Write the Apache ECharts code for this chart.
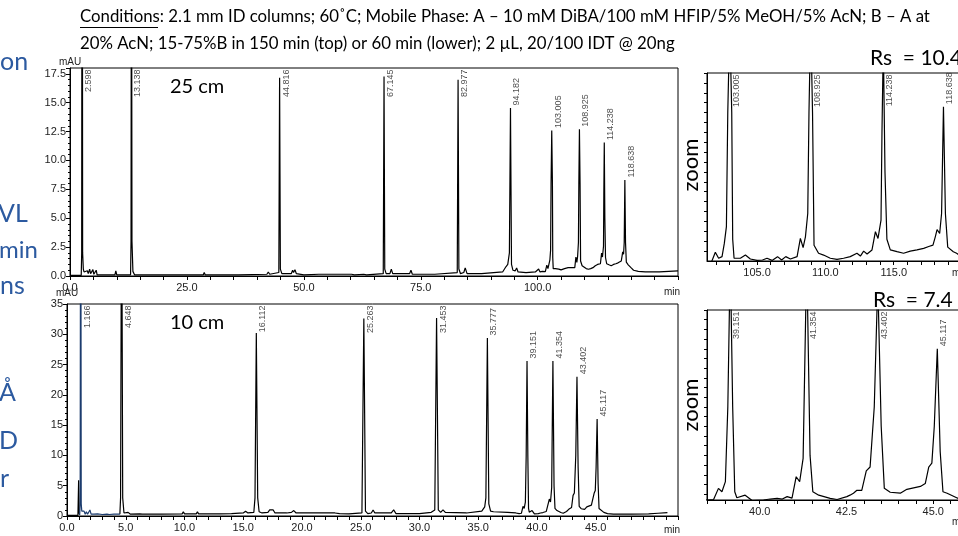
<!DOCTYPE html>
<html>
<head>
<meta charset="utf-8">
<script src="https://cdn.jsdelivr.net/npm/echarts@6.0.0/dist/echarts.min.js"></script>
<style>
html,body{margin:0;padding:0;background:#fff;}
#chart{width:958px;height:536px;}
</style>
</head>
<body>
<div id="chart"></div>
<script>
// 25 cm column (15-75%B in 150 min), [min, mAU]
var trace25 = [
  [0,0.05],[2.4,0.05],[2.5,2],[2.598,60],[2.7,2],[2.85,0.6],[3.0,0.35],[3.2,0.5],[3.4,0.2],[3.7,0.45],[3.9,0.2],
  [4.2,0.6],[4.4,0.2],[4.9,0.55],[5.1,0.15],[5.6,0.5],[5.8,0.1],[9.6,0.1],[9.8,0.45],[10.0,0.1],
  [12.95,0.1],[13.05,3],[13.138,40],[13.25,3],[13.45,0.4],[13.8,0.1],[15.6,0.1],[15.8,0.25],[16,0.1],
  [18.2,0.1],[18.4,0.2],[18.6,0.1],[28.5,0.1],[28.7,0.3],[28.9,0.1],[32.2,0.1],[32.4,0.25],[32.6,0.1],
  [36,0.1],[42.1,0.15],[42.4,0.35],[42.7,0.15],[44.65,0.3],[44.816,17.16],[44.98,0.6],[45.3,0.2],
  [47.3,0.2],[47.6,0.5],[47.8,0.3],[48.1,0.55],[48.4,0.2],[50,0.1],[53.2,0.15],[53.5,0.3],[53.8,0.15],
  [60.2,0.15],[60.5,0.3],[60.8,0.1],[62.8,0.15],[63.1,0.3],[63.4,0.1],[66.98,0.2],[67.145,17.27],
  [67.3,0.6],[67.6,0.2],[68.4,0.2],[68.7,0.6],[69,0.2],[72.6,0.2],[72.9,0.5],[73.2,0.15],[78,0.15],
  [82.8,0.3],[82.977,16.98],[83.15,0.6],[83.5,0.2],[84.2,0.3],[84.5,0.7],[84.9,0.2],[88,0.2],
  [92.5,0.35],[93.2,0.8],[93.6,1.0],[93.95,2.0],[94.182,14.53],[94.4,1.0],[94.7,0.5],[95.2,0.45],
  [95.5,0.7],[95.8,0.35],[97.5,0.3],[99.5,0.35],[100.2,0.6],[100.5,0.35],[101.0,0.4],[101.34,0.35],
  [101.63,0.38],[101.95,0.94],[102.19,0.64],[102.44,0.72],[102.61,1.4],[102.76,2.24],[102.86,8],
  [103.005,12.6],[103.15,8],[103.22,1.6],[103.32,0.64],[103.78,0.64],[104.15,0.8],[104.51,0.6],
  [105.0,0.53],[105.4,0.55],[105.73,0.64],[106.1,0.53],[106.5,0.72],[106.8,0.55],[107.1,0.72],
  [107.44,0.6],[107.93,0.72],[108.17,1.64],[108.37,1.18],[108.54,1.72],[108.71,2.9],[108.8,8],
  [108.925,12.7],[109.06,8],[109.17,1.3],[109.5,0.89],[109.87,0.8],[110.36,0.64],[110.85,0.58],
  [111.33,0.64],[111.82,0.72],[112.31,0.89],[112.56,0.75],[112.8,1.0],[113.05,0.85],[113.41,1.06],
  [113.66,1.98],[113.85,1.64],[114.07,2.57],[114.14,7],[114.238,11.55],[114.36,5],[114.5,1.6],
  [114.75,1.06],[115.24,0.97],[115.72,0.89],[116.21,1.0],[116.7,1.06],[117.19,1.14],[117.56,1.23],
  [117.87,1.3],[118.04,1.72],[118.17,2.09],[118.36,1.89],[118.5,2.9],[118.638,8.3],[118.78,2.9],
  [118.95,1.2],[119.36,0.97],[119.6,0.89],[120.0,0.7],[120.5,0.5],[121.5,0.4],[123,0.35],[126,0.35],
  [128,0.4],[130,0.45]
];

// 10 cm column (60 min gradient); the gap is drawn by trace10Blue
var trace10 = [
  [0,0.1],[0.93,0.1],[0.99,5.9],[1.04,0.4],[1.08,0.2],[1.08,'-'],
  [4.5,0.3],[4.56,3],[4.648,60],[4.74,3],[4.85,0.5],[5.0,0.4],[5.2,0.6],[5.4,0.3],[6.2,0.35],
  [6.3,0.55],[6.4,0.3],[8,0.3],[9.8,0.35],[9.9,0.7],[10,0.35],[11.0,0.35],[11.1,0.7],[11.2,0.35],
  [13,0.35],[14,0.4],[15.0,0.5],[15.2,0.8],[15.4,0.5],[15.9,0.6],[16.0,3],[16.112,30.2],[16.23,3],
  [16.35,0.7],[16.6,0.5],[17.1,0.6],[17.25,1.0],[17.4,0.7],[17.55,1.0],[17.7,0.5],[18.5,0.5],
  [18.6,0.7],[18.7,0.5],[19.1,0.6],[19.3,0.9],[19.5,0.5],[21.6,0.5],[21.75,0.8],[21.9,0.5],
  [22.8,0.5],[23.2,0.4],[24,0.35],[25.1,0.5],[25.263,32.6],[25.4,0.8],[25.6,0.4],[25.9,0.5],
  [26.05,1.0],[26.2,0.5],[27.6,0.5],[27.8,1.0],[28.0,0.4],[30,0.4],[31.0,0.6],[31.3,1.0],
  [31.453,32.7],[31.6,1.0],[31.8,0.6],[32.0,1.0],[32.2,0.6],[34,0.5],[35.3,0.8],[35.55,1.5],
  [35.65,3],[35.777,29.4],[35.9,2],[36.05,0.8],[36.3,0.7],[37.5,0.6],[38.2,0.5],[38.48,0.4],
  [38.67,0.45],[38.81,1.6],[38.91,1.25],[39.01,2.3],[39.08,10],[39.151,25.6],[39.22,10],
  [39.28,1.25],[39.34,0.63],[39.58,0.9],[39.78,0.35],[40.11,0.4],[40.3,0.5],[40.5,0.57],
  [40.65,0.5],[40.79,0.75],[40.93,0.6],[41.05,2.8],[41.15,2.3],[41.25,4.7],[41.354,25.6],
  [41.45,5],[41.53,1.25],[41.7,0.9],[42.03,0.57],[42.23,0.45],[42.51,0.75],[42.6,0.9],[42.7,1.1],
  [42.8,1.4],[42.94,1.4],[43.07,3.4],[43.18,3.8],[43.3,10],[43.402,23.0],[43.5,8],[43.59,1.6],
  [43.76,1.2],[44.05,1.1],[44.24,1.5],[44.63,1.8],[44.77,2.1],[44.87,3.8],[44.96,4.2],[45.03,8],
  [45.117,16.0],[45.2,5.4],[45.28,1.25],[45.4,1.1],[45.69,0.6],[46.0,0.4],[46.5,0.3],[48,0.3],
  [49.5,0.35],[50.3,0.45],[51.1,0.55]
];
var trace10Blue = [
  [1.08,0.2],[1.12,2],[1.166,80],[1.21,2],[1.26,0.8],[1.35,0.5],[1.45,0.8],[1.55,0.3],[1.65,0.7],
  [1.75,0.3],[1.85,0.5],[1.95,1.0],[2.05,0.3],[2.3,0.3],[2.6,0.35],[3.0,0.25],[3.4,0.3],[3.5,0.5],
  [3.6,0.25],[4.0,0.3],[4.5,0.3]
];

var peaks25 = [2.598, 13.138, 44.816, 67.145, 82.977, 94.182, 103.005, 108.925, 114.238, 118.638];
var heights25 = [60, 40, 17.16, 17.27, 16.98, 14.53, 12.6, 12.7, 11.55, 8.3];
var peaks10 = [1.166, 4.648, 16.112, 25.263, 31.453, 35.777, 39.151, 41.354, 43.402, 45.117];
var heights10 = [80, 60, 30.2, 32.6, 32.7, 29.4, 25.6, 25.6, 23.0, 16.0];

function range(a, b, step) {
  var out = [];
  for (var v = a; v <= b + 1e-9; v += step) out.push(+v.toFixed(3));
  return out;
}
var xLabels25 = [0, 25, 50, 75, 100];
var xLabels10 = [0, 5, 10, 15, 20, 25, 30, 35, 40, 45];
var zoomTopXTicks = range(102, 121, 1);
var zoomTopXLabels = [105, 110, 115];
var zoomBotXTicks = range(38.5, 46.5, 0.5);
var zoomBotXLabels = [40, 42.5, 45];
var zoomTopYMinor = range(1, 10, 0.5);
var zoomTopYMajor = [2.5, 5, 7.5, 10];
var zoomBotYMinor = range(1, 20, 1);
var zoomBotYMajor = [5, 10, 15, 20];

var FONT = 'Liberation Sans';
var TXT = 'Lato';

function every(step, digits) {
  return function (v) {
    var k = v / step;
    return Math.abs(k - Math.round(k)) < 1e-6 ? v.toFixed(digits) : '';
  };
}
function fixed1(v) { return v.toFixed(1); }

function peakMarks(times, heights, top, span, lo, hi) {
  var out = [];
  times.forEach(function (t, i) {
    if (t < lo || t > hi) return;
    var clipped = heights[i] + span > top;
    out.push({
      name: t.toFixed(3),
      value: [t, clipped ? top : heights[i]],
      label: clipped ? { align: 'right', position: [7, 2] } : { align: 'left', position: [7, -2] }
    });
  });
  return out;
}

function tickLabel(extra) {
  return Object.assign({ fontFamily: FONT, fontSize: 11, color: '#222', margin: 6 }, extra);
}
function xAxis(grid, min, max, opts) {
  var ax = {
    type: 'value', gridIndex: grid, min: min, max: max,
    axisLine: { onZero: false, lineStyle: { color: '#000', width: 1 } },
    axisTick: { length: 4, lineStyle: { color: '#000' } },
    axisLabel: tickLabel({}),
    splitLine: { show: false }
  };
  return Object.assign(ax, opts);
}
function yAxis(grid, min, max, opts) {
  var ax = {
    type: 'value', gridIndex: grid, min: min, max: max,
    axisLine: { show: true, onZero: false, lineStyle: { color: '#000', width: 1 } },
    axisTick: { show: true, length: 4, lineStyle: { color: '#000' } },
    axisLabel: tickLabel({ margin: 4 }),
    splitLine: { show: false }
  };
  return Object.assign(ax, opts);
}

function trace(data, x, y, color) {
  return {
    type: 'line', data: data, xAxisIndex: x, yAxisIndex: y,
    showSymbol: false, symbol: 'none', clip: true, silent: true,
    lineStyle: { color: color || '#000', width: 1.2 }
  };
}
function labels(data, x, y) {
  return {
    type: 'scatter', data: data, xAxisIndex: x, yAxisIndex: y,
    symbolSize: 1, itemStyle: { color: 'rgba(0,0,0,0)' }, silent: true,
    label: {
      show: true, formatter: '{b}', rotate: 90, verticalAlign: 'middle',
      fontFamily: FONT, fontSize: 9, color: '#222'
    }
  };
}

var chart = echarts.init(document.getElementById('chart'));
var gridBase = { show: true, borderColor: '#000', borderWidth: 1, backgroundColor: 'transparent', outerBoundsMode: 'none', containLabel: false };

chart.setOption({
  animation: false,
  grid: [
    Object.assign({ left: 70, top: 68, width: 608, height: 208 }, gridBase),
    Object.assign({ left: 67, top: 304, width: 611, height: 212 }, gridBase),
    Object.assign({ left: 707, top: 73, width: 280, height: 188 }, gridBase),
    Object.assign({ left: 707, top: 310, width: 280, height: 190 }, gridBase)
  ],
  xAxis: [
    xAxis(0, 0, 130, { interval: 5, axisLabel: tickLabel({ customValues: xLabels25, formatter: fixed1 }) }),
    xAxis(1, 0, 52, { interval: 1, axisLabel: tickLabel({ customValues: xLabels10, formatter: fixed1 }) }),
    xAxis(2, 101.34, 101.34 + 280 / 13.67, {
      axisTick: { length: 4, lineStyle: { color: '#000' }, customValues: zoomTopXTicks },
      axisLabel: tickLabel({ customValues: zoomTopXLabels, formatter: fixed1 })
    }),
    xAxis(3, 38.48, 38.48 + 280 / 34.7, {
      axisTick: { length: 4, lineStyle: { color: '#000' }, customValues: zoomBotXTicks },
      axisLabel: tickLabel({ customValues: zoomBotXLabels, formatter: fixed1 })
    })
  ],
  yAxis: [
    yAxis(0, 0, 18, {
      interval: 2.5, name: 'mAU', nameGap: 1,
      nameTextStyle: { fontFamily: FONT, fontSize: 10, color: '#222' },
      minorTick: { show: true, splitNumber: 5, length: 2, lineStyle: { color: '#000' } },
      axisLabel: tickLabel({ margin: 4, formatter: every(2.5, 1) })
    }),
    yAxis(1, 0, 35, {
      interval: 5, name: 'mAU', nameGap: 1,
      nameTextStyle: { fontFamily: FONT, fontSize: 10, color: '#222' },
      minorTick: { show: true, splitNumber: 5, length: 2, lineStyle: { color: '#000' } }
    }),
    yAxis(2, 0.5, 10, {
      axisTick: { length: 3, lineStyle: { color: '#000' }, customValues: zoomTopYMinor },
      axisLabel: { show: false }
    }),
    yAxis(2, 0.5, 10, {
      axisLine: { show: false },
      axisTick: { length: 6, lineStyle: { color: '#000' }, customValues: zoomTopYMajor },
      axisLabel: { show: false }
    }),
    yAxis(3, 0.4, 20, {
      axisTick: { length: 3, lineStyle: { color: '#000' }, customValues: zoomBotYMinor },
      axisLabel: { show: false }
    }),
    yAxis(3, 0.4, 20, {
      axisLine: { show: false },
      axisTick: { length: 6, lineStyle: { color: '#000' }, customValues: zoomBotYMajor },
      axisLabel: { show: false }
    })
  ],
  series: [
    trace(trace25, 0, 0),
    trace(trace10, 1, 1),
    trace(trace10Blue, 1, 1, '#1c3c6e'),
    trace(trace25, 2, 2),
    trace(trace10, 3, 4),
    labels(peakMarks(peaks25, heights25, 18, 2.6, 0, 130), 0, 0),
    labels(peakMarks(peaks10, heights10, 35, 5, 0, 52), 1, 1),
    labels(peakMarks(peaks25, heights25, 10, 1.5, 101.4, 125), 2, 2),
    labels(peakMarks(peaks10, heights10, 20, 3.1, 38.5, 46.5), 3, 4)
  ],
  graphic: [
    { type: 'text', left: 80, top: 8, style: { text: 'Conditions: 2.1 mm ID columns; 60˚C; Mobile Phase: A – 10 mM DiBA/100 mM HFIP/5% MeOH/5% AcN; B – A at', font: '16.8px ' + TXT, fill: '#000' } },
    { type: 'text', left: 80, top: 35, style: { text: '20% AcN; 15-75%B in 150 min (top) or 60 min (lower); 2 µL, 20/100 IDT @ 20ng', font: '16.8px ' + TXT, fill: '#000' } },
    { type: 'line', shape: { x1: 80, y1: 27.5, x2: 158, y2: 27.5 }, style: { stroke: '#000', lineWidth: 1 } },
    { type: 'text', x: 170, y: 87, style: { text: '25 cm', font: '20px ' + TXT, fill: '#000', verticalAlign: 'middle' } },
    { type: 'text', x: 170, y: 323, style: { text: '10 cm', font: '20px ' + TXT, fill: '#000', verticalAlign: 'middle' } },
    { type: 'text', x: 870, y: 58, style: { text: 'Rs  = 10.4', font: '21px ' + TXT, fill: '#000', verticalAlign: 'middle' } },
    { type: 'text', x: 873, y: 300, style: { text: 'Rs  = 7.4', font: '21px ' + TXT, fill: '#000', verticalAlign: 'middle' } },
    { type: 'text', x: 691, y: 165, rotation: Math.PI / 2, style: { text: 'zoom', font: '22px ' + TXT, fill: '#000', align: 'center', verticalAlign: 'middle' } },
    { type: 'text', x: 691, y: 405, rotation: Math.PI / 2, style: { text: 'zoom', font: '22px ' + TXT, fill: '#000', align: 'center', verticalAlign: 'middle' } },
    { type: 'text', x: 664, y: 292, style: { text: 'min', font: '10px ' + FONT, fill: '#222', verticalAlign: 'middle' } },
    { type: 'text', x: 664, y: 530, style: { text: 'min', font: '10px ' + FONT, fill: '#222', verticalAlign: 'middle' } },
    { type: 'text', x: 952, y: 273, style: { text: 'min', font: '10px ' + FONT, fill: '#222', verticalAlign: 'middle' } },
    { type: 'text', x: 952, y: 522, style: { text: 'min', font: '10px ' + FONT, fill: '#222', verticalAlign: 'middle' } },
    { type: 'text', x: 0, y: 62, style: { text: 'on', font: '25px ' + TXT, fill: '#2c5aa0', verticalAlign: 'middle' } },
    { type: 'text', x: -2, y: 214, style: { text: 'VL', font: '25px ' + TXT, fill: '#2c5aa0', verticalAlign: 'middle' } },
    { type: 'text', x: -1, y: 250, style: { text: 'min', font: '24px ' + TXT, fill: '#2c5aa0', verticalAlign: 'middle' } },
    { type: 'text', x: 0, y: 286, style: { text: 'ns', font: '25px ' + TXT, fill: '#2c5aa0', verticalAlign: 'middle' } },
    { type: 'text', x: -1, y: 393, style: { text: 'Å', font: '25px ' + TXT, fill: '#2c5aa0', verticalAlign: 'middle' } },
    { type: 'text', x: -1, y: 441, style: { text: 'D', font: '25px ' + TXT, fill: '#2c5aa0', verticalAlign: 'middle' } },
    { type: 'text', x: 0, y: 479, style: { text: 'r', font: '25px ' + TXT, fill: '#2c5aa0', verticalAlign: 'middle' } }
  ]
});
</script>
</body>
</html>
